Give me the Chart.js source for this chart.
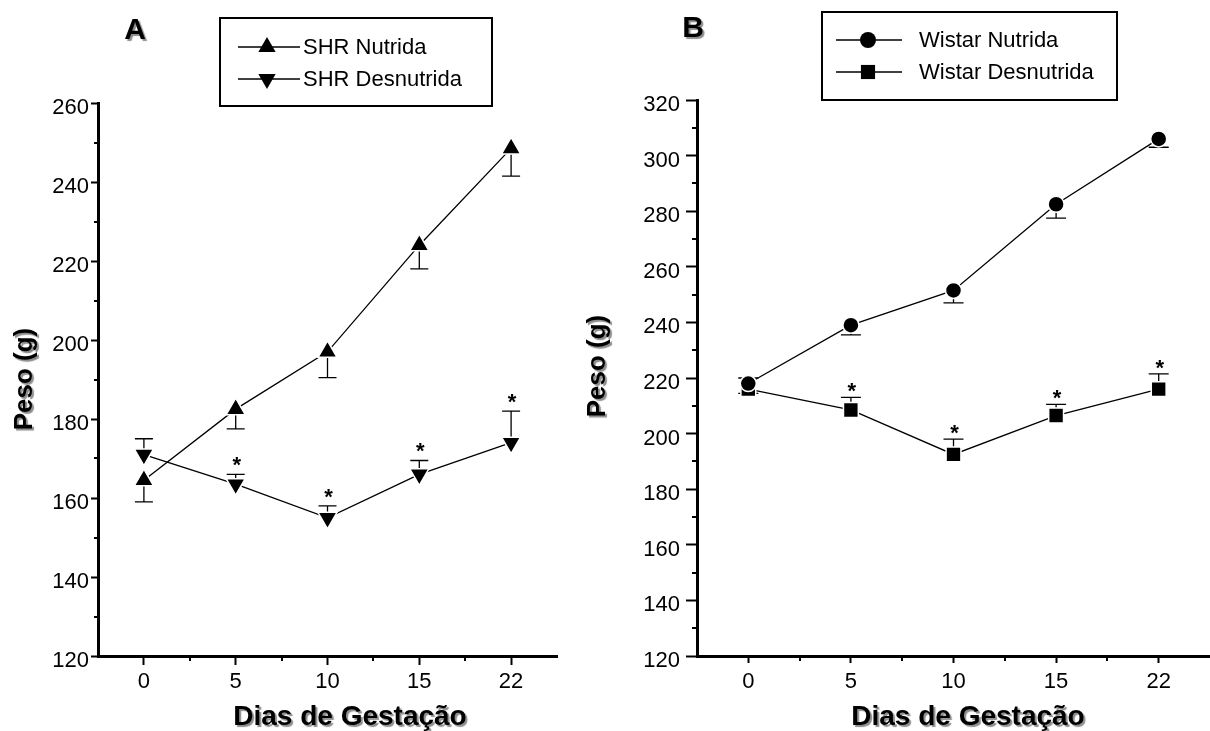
<!DOCTYPE html>
<html><head><meta charset="utf-8">
<script src="https://cdn.jsdelivr.net/npm/chart.js@4.4.0/dist/chart.umd.min.js"></script>
<style>
html,body{margin:0;padding:0;background:#fff;width:1210px;height:731px;overflow:hidden;position:relative;}
#wa{position:absolute;left:0;top:0;width:570px;height:731px;}
#wb{position:absolute;left:570px;top:0;width:653px;height:731px;}
canvas{display:block;}
</style></head><body>
<div id="wa"><canvas id="ca" width="570" height="731"></canvas></div>
<div id="wb"><canvas id="cb" width="653" height="731"></canvas></div>
<script>
// ---------- DATA ----------
const categories = ['0', '5', '10', '15', '22'];

const shrNutrida        = [164.5, 182.5, 197, 224, 248.5];
const shrNutridaSem     = [5.5, 5, 6.5, 6, 7];
const shrDesnutrida     = [171, 163.5, 155, 166, 174];
const shrDesnutridaSem  = [4, 2.5, 3, 3.5, 8];
const shrDesnutridaSig  = [false, true, true, true, true];

const wistarNutrida       = [218, 239, 251.5, 282.5, 306];
const wistarNutridaSem    = [3.5, 3.5, 4.5, 5, 3];
const wistarDesnutrida    = [216, 208.5, 192.5, 206.5, 216];
const wistarDesnutridaSem = [4, 4.5, 5.5, 4, 5.5];
const wistarDesnutridaSig = [false, true, true, true, true];

const yTicksA = [120, 140, 160, 180, 200, 220, 240, 260];
const yMinorA = [130, 150, 170, 190, 210, 230, 250];
const yTicksB = [120, 140, 160, 180, 200, 220, 240, 260, 280, 300, 320];
const yMinorB = [130, 150, 170, 190, 210, 230, 250, 270, 290, 310];

const FONT = "'Liberation Sans', Arial, Helvetica, sans-serif";

// ---------- PLUGINS ----------
const errorBarPlugin = {
  id: 'errBars',
  beforeDatasetsDraw(chart, args, o) {
    const ctx = chart.ctx, ys = chart.scales.y;
    ctx.save();
    ctx.strokeStyle = '#000'; ctx.lineWidth = 1.3;
    chart.data.datasets.forEach((ds, i) => {
      const meta = chart.getDatasetMeta(i);
      meta.data.forEach((pt, j) => {
        const end = ys.getPixelForValue(ds.data[j] + ds.errDir * ds.errors[j]);
        ctx.beginPath();
        ctx.moveTo(pt.x, pt.y); ctx.lineTo(pt.x, end);
        ctx.moveTo(pt.x - o.cap, end); ctx.lineTo(pt.x + o.cap, end);
        ctx.stroke();
      });
    });
    ctx.restore();
  },
  afterDatasetsDraw(chart, args, o) {
    const ctx = chart.ctx, ys = chart.scales.y;
    ctx.save();
    ctx.fillStyle = '#000';
    ctx.font = 'bold 22px ' + FONT;
    ctx.textAlign = 'center'; ctx.textBaseline = 'alphabetic';
    chart.data.datasets.forEach((ds, i) => {
      if (!ds.sig) return;
      const meta = chart.getDatasetMeta(i);
      meta.data.forEach((pt, j) => {
        if (!ds.sig[j]) return;
        const end = ys.getPixelForValue(ds.data[j] + ds.errDir * ds.errors[j]);
        ctx.fillText('*', pt.x + 1, end + o.starDy);
      });
    });
    ctx.restore();
  }
};

const minorTickPlugin = {
  id: 'minorTicks',
  afterDraw(chart, args, o) {
    const ctx = chart.ctx, xs = chart.scales.x, ys = chart.scales.y, ca = chart.chartArea;
    ctx.save(); ctx.strokeStyle = '#000'; ctx.lineWidth = 2;
    o.yMinor.forEach(v => {
      const y = Math.round(ys.getPixelForValue(v));
      ctx.beginPath(); ctx.moveTo(ca.left - o.yLen, y); ctx.lineTo(ca.left, y); ctx.stroke();
    });
    for (let i = 0; i < categories.length - 1; i++) {
      const x = Math.round((xs.getPixelForValue(i) + xs.getPixelForValue(i + 1)) / 2);
      ctx.beginPath(); ctx.moveTo(x, ca.bottom); ctx.lineTo(x, ca.bottom + o.xLen); ctx.stroke();
    }
    ctx.restore();
  }
};

const boxLegendPlugin = {
  id: 'boxLegend',
  afterDraw(chart, args, o) {
    const ctx = chart.ctx;
    ctx.save();
    ctx.strokeStyle = '#000'; ctx.lineWidth = 2;
    ctx.strokeRect(o.x, o.y, o.w, o.h);
    chart.data.datasets.forEach((ds, i) => {
      const ry = o.y + o.rows[i];
      ctx.beginPath(); ctx.lineWidth = 1.3;
      ctx.moveTo(o.x + o.line0, ry); ctx.lineTo(o.x + o.line1, ry); ctx.stroke();
      ctx.fillStyle = '#000';
      Chart.helpers.drawPoint(ctx, {
        pointStyle: ds.pointStyle, radius: o.markerR[i], rotation: ds.pointRotation || 0, borderWidth: 0
      }, o.x + o.markerX, ry);
      ctx.fillStyle = '#000';
      ctx.font = o.fontSize + 'px ' + FONT;
      ctx.textAlign = 'left'; ctx.textBaseline = 'middle';
      ctx.fillText(ds.label, o.x + o.textX, ry + 1);
    });
    ctx.restore();
  }
};

const titlePlugin = {
  id: 'shadowTitles',
  afterDraw(chart, args, o) {
    const ctx = chart.ctx;
    const draw = (text, x, y, size, rot) => {
      ctx.save();
      ctx.translate(x, y); if (rot) ctx.rotate(rot);
      ctx.font = 'bold ' + size + 'px ' + FONT;
      ctx.textAlign = 'center'; ctx.textBaseline = 'middle';
      ctx.shadowColor = 'rgba(0,0,0,0.45)';
      ctx.shadowOffsetX = 2; ctx.shadowOffsetY = 2; ctx.shadowBlur = 1;
      ctx.fillStyle = '#000';
      ctx.fillText(text, 0, 0);
      ctx.restore();
    };
    draw(o.letter, o.letterX, o.letterY, 30, 0);
    draw('Peso (g)', o.yTitleX, o.yTitleY, 26, -Math.PI / 2);
    draw('Dias de Gestação', o.xTitleX, o.xTitleY, 28, 0);
  }
};

// ---------- CHART BUILDER ----------
function makeDataset(label, data, errors, errDir, sig, style, rotation, radius) {
  return {
    label, data, errors, errDir, sig,
    borderColor: '#000', borderWidth: 1.3, backgroundColor: '#000',
    pointStyle: style, pointRotation: rotation, pointRadius: radius, pointHoverRadius: radius,
    pointBackgroundColor: '#000', pointBorderColor: '#fff', pointBorderWidth: 1.5,
    tension: 0, fill: false
  };
}

function makeChart(canvasId, cfg) {
  return new Chart(document.getElementById(canvasId), {
    type: 'line',
    data: { labels: categories, datasets: cfg.datasets },
    options: {
      responsive: false, animation: false, events: [],
      layout: { padding: cfg.padding },
      scales: {
        x: {
          type: 'category', offset: true,
          grid: { offset: false, drawOnChartArea: false, tickLength: cfg.xTickLen, tickWidth: 2, tickColor: '#000' },
          border: { color: '#000', width: 3 },
          ticks: { color: '#000', font: { family: FONT, size: 22 }, padding: cfg.xTickPad, maxRotation: 0, autoSkip: false },
          afterFit: s => { s.height = cfg.xAxisH; }
        },
        y: {
          min: cfg.yTicks[0], max: cfg.yTicks[cfg.yTicks.length - 1],
          afterBuildTicks: s => { s.ticks = cfg.yTicks.map(v => ({ value: v })); },
          grid: { drawOnChartArea: false, tickLength: cfg.yTickLen, tickWidth: 2, tickColor: '#000' },
          border: { color: '#000', width: 3 },
          ticks: { color: '#000', font: { family: FONT, size: 22 }, padding: cfg.yTickPad, labelOffset: 5 },
          afterFit: s => { s.width = cfg.yAxisW; }
        }
      },
      plugins: {
        legend: { display: false },
        tooltip: { enabled: false },
        errBars: cfg.err,
        minorTicks: cfg.minor,
        boxLegend: cfg.legend,
        shadowTitles: cfg.titles
      }
    },
    plugins: [errorBarPlugin, minorTickPlugin, boxLegendPlugin, titlePlugin]
  });
}

makeChart('ca', {
  datasets: [
    makeDataset('SHR Nutrida', shrNutrida, shrNutridaSem, -1, null, 'triangle', 0, 11),
    makeDataset('SHR Desnutrida', shrDesnutrida, shrDesnutridaSem, 1, shrDesnutridaSig, 'triangle', 180, 11)
  ],
  yTicks: yTicksA,
  padding: { left: 0, top: 103, right: 13, bottom: 0 },
  yAxisW: 98, xAxisH: 75,
  yTickLen: 7, yTickPad: 2, xTickLen: 9, xTickPad: 4,
  err: { cap: 9, starDy: -2 },
  minor: { yMinor: yMinorA, yLen: 4, xLen: 5 },
  legend: { x: 220, y: 18, w: 272, h: 88, rows: [29, 61], line0: 18, line1: 80, markerX: 47, textX: 83, fontSize: 22, markerR: [10, 10] },
  titles: { letter: 'A', letterX: 135, letterY: 31, yTitleX: 25, yTitleY: 379, xTitleX: 350, xTitleY: 717 }
});

makeChart('cb', {
  datasets: [
    makeDataset('Wistar Nutrida', wistarNutrida, wistarNutridaSem, -1, null, 'circle', 0, 8),
    makeDataset('Wistar Desnutrida', wistarDesnutrida, wistarDesnutridaSem, 1, wistarDesnutridaSig, 'rect', 0, 10.5)
  ],
  yTicks: yTicksB,
  padding: { left: 0, top: 100, right: 13, bottom: 0 },
  yAxisW: 127, xAxisH: 75,
  yTickLen: 11, yTickPad: 6, xTickLen: 7, xTickPad: 6,
  err: { cap: 10, starDy: 1 },
  minor: { yMinor: yMinorB, yLen: 5, xLen: 5 },
  legend: { x: 252, y: 12, w: 295, h: 88, rows: [28, 60], line0: 14, line1: 80, markerX: 46, textX: 97, fontSize: 22, markerR: [8, 10] },
  titles: { letter: 'B', letterX: 123, letterY: 29, yTitleX: 28, yTitleY: 366, xTitleX: 398, xTitleY: 717 }
});
</script>
</body></html>
